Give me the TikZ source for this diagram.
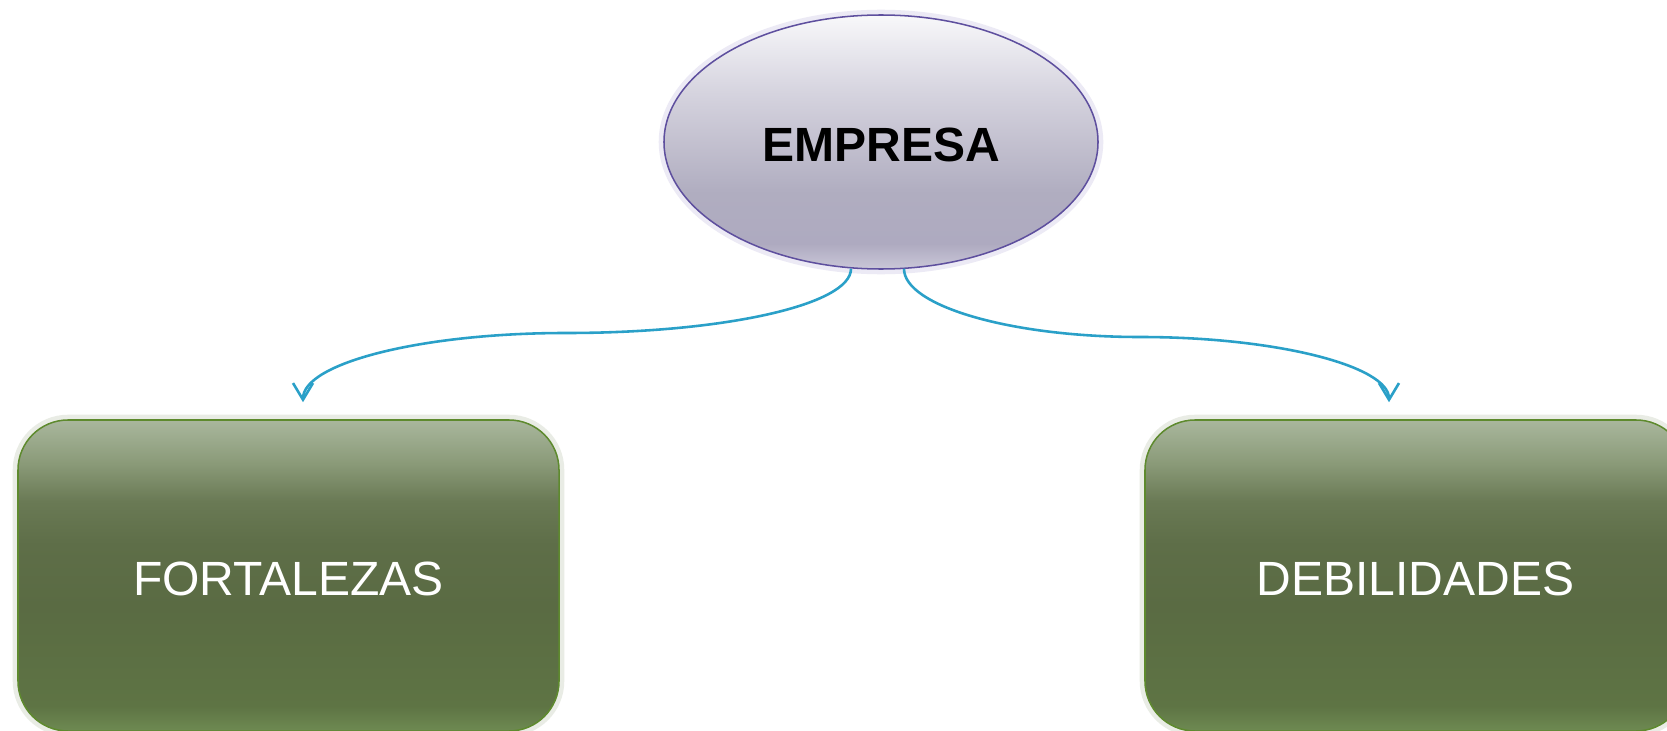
\documentclass[tikz,border=0pt]{standalone}
\usepackage{fontspec}
\setmainfont{Liberation Sans}
\usetikzlibrary{shapes.geometric,arrows.meta,calc}
\definecolor{ellborder}{HTML}{5E4F9E}
\definecolor{boxborder}{HTML}{5E8A2E}
\definecolor{arrowblue}{HTML}{2AA0C8}
\definecolor{ellglow}{HTML}{ECEAF5}
\definecolor{boxglow}{HTML}{E9ECE5}
\definecolor{bxa}{HTML}{6E8A52}
\definecolor{bxb}{HTML}{5E7444}
\definecolor{bxc}{HTML}{5A6B43}
\definecolor{bxd}{HTML}{5E6E48}
\definecolor{bxe}{HTML}{6A7A55}
\definecolor{bxf}{HTML}{8A9A78}
\definecolor{bxg}{HTML}{A9B79D}
\definecolor{ela}{HTML}{CAC7D8}
\definecolor{elb}{HTML}{AEAAC0}
\definecolor{elc}{HTML}{B0ADC0}
\definecolor{eld}{HTML}{D6D4DF}
\definecolor{ele}{HTML}{F8F8FA}
\pgfdeclareverticalshading{boxshade}{100bp}{%
  color(0bp)=(bxa);
  color(25bp)=(bxa);
  color(29bp)=(bxb);
  color(45bp)=(bxc);
  color(55bp)=(bxd);
  color(62bp)=(bxe);
  color(68bp)=(bxf);
  color(75bp)=(bxg);
  color(100bp)=(bxg)}
\pgfdeclareverticalshading{ellshade}{100bp}{%
  color(0bp)=(ela);
  color(25bp)=(ela);
  color(30bp)=(elb);
  color(40bp)=(elc);
  color(60bp)=(eld);
  color(75bp)=(ele);
  color(100bp)=(ele)}
\tikzset{
  px/.style={x=0.03cm,y=-0.03cm},
  ellnode/.style={ellipse, shading=ellshade, draw=ellborder, line width=1.3pt,
    minimum width=13.02cm, minimum height=7.62cm, inner sep=0pt,
    text height=34pt, text depth=0pt,
    preaction={draw=ellglow, line width=9pt},
    font=\fontsize{41}{48}\selectfont\bfseries, text=black},
  boxnode/.style={rectangle, rounded corners=1.5cm, shading=boxshade,
    draw=boxborder, line width=1.3pt,
    minimum width=16.23cm, minimum height=9.33cm, inner sep=0pt,
    text height=34pt, text depth=0pt,
    preaction={draw=boxglow, line width=9pt},
    font=\fontsize{41}{48}\selectfont, text=white},
  conn/.style={draw=arrowblue, line width=2.2pt,
    -{Straight Barb[length=0.5cm,width=0.6cm,line width=2.2pt]}}
}
\begin{document}
\begin{tikzpicture}[px]
  \useasboundingbox (0,0) rectangle (1667,731);
  \clip (0,0) rectangle (1667,731);
  \fill[white] (0,0) rectangle (1667,731);
  \node[ellnode] (e) at (881,142) {EMPRESA};
  \node[boxnode] (f) at (288.5,575.5) {FORTALEZAS};
  \node[boxnode] (d) at (1415.5,575.5) {DEBILIDADES};
  \coordinate (ls) at ($(e.south)+(-30,-1)$);
  \coordinate (rs) at ($(e.south)+(23,-1)$);
  \coordinate (lm) at (566,333);
  \coordinate (rm) at (1140,337);
  \coordinate (lt) at ($(f.north)+(14.5,-17)$);
  \coordinate (rt) at ($(d.north)+(-26.5,-17)$);
  \draw[conn] (ls) .. controls +(0,36) and +(158,0) .. (lm)
              .. controls +(-145,0) and +(0,-39) .. (lt);
  \draw[conn] (rs) .. controls +(0,37) and +(-130,0) .. (rm)
              .. controls +(137,0) and +(0,-36) .. (rt);
\end{tikzpicture}
\end{document}
